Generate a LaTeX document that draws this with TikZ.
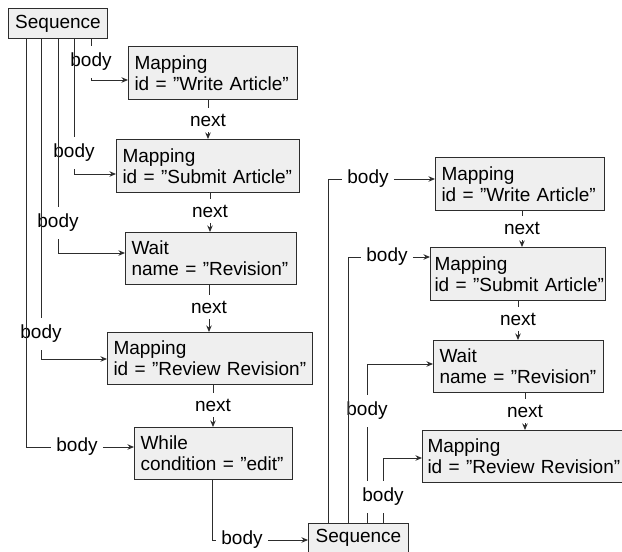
\documentclass[tikz,border=0pt]{standalone}
\usepackage{fontspec}
\setmainfont{Liberation Sans}
\usetikzlibrary{arrows.meta}
\definecolor{boxfill}{RGB}{239,239,239}
\definecolor{ink}{RGB}{45,45,45}
\begin{document}
\begin{tikzpicture}[x=1pt,y=-1pt,
  font=\fontsize{19}{21}\selectfont,
  objbox/.style={draw=ink, fill=boxfill, line width=1pt, anchor=north west,
    inner xsep=6pt, inner ysep=0pt, align=left},
  seqbox/.style={draw=ink, fill=boxfill, line width=1pt, anchor=north west,
    inner sep=0pt},
  lbl/.style={inner xsep=5pt, inner ysep=7pt},
  nlbl/.style={inner xsep=5pt, inner ysep=6pt, anchor=base},
  conn/.style={draw=ink, line width=0.9pt},
  arr/.style={conn, -{Stealth[length=6.5pt,width=5.5pt]}}]
\useasboundingbox (0,0) rectangle (622,552);

% ---- first sequence and its steps ----
\node[seqbox, minimum width=99pt, minimum height=30pt] (s1) at (8,8) {Sequence};
\node[objbox, minimum width=169pt, minimum height=53pt, text width=157pt] (b1) at (128,46)
  {Mapping\\\mbox{id = ”Write Article”}};
\node[objbox, minimum width=183pt, minimum height=53pt, text width=171pt] (b2) at (116,139)
  {Mapping\\\mbox{id = ”Submit Article”}};
\node[objbox, minimum width=171pt, minimum height=52pt, text width=159pt] (b3) at (125,232)
  {Wait\\\mbox{name = ”Revision”}};
\node[objbox, minimum width=205pt, minimum height=52pt, text width=193pt] (b4) at (107,332)
  {Mapping\\\mbox{id = ”Review Revision”}};
\node[objbox, minimum width=158pt, minimum height=52pt, text width=146pt] (b5) at (134,427)
  {While\\\mbox{condition = ”edit”}};

% ---- nested sequence inside the loop ----
\node[seqbox, minimum width=100pt, minimum height=29pt] (s2) at (308,523) {Sequence};
\node[objbox, minimum width=169pt, minimum height=53pt, text width=157pt] (r1) at (435,157)
  {Mapping\\\mbox{id = ”Write Article”}};
\node[objbox, minimum width=175pt, minimum height=53pt, text width=167pt, inner xsep=4pt] (r2) at (430,247)
  {Mapping\\\mbox{id = ”Submit Article”}};
\node[objbox, minimum width=170pt, minimum height=52pt, text width=158pt] (r3) at (433,340)
  {Wait\\\mbox{name = ”Revision”}};
\node[objbox, minimum width=200pt, minimum height=52pt, text width=190pt, inner xsep=5pt] (r4) at (422,430)
  {Mapping\\\mbox{id = ”Review Revision”}};

% ---- edge labels ----
\node[lbl] (bA) at (91,62) {body};
\node[lbl] (bB) at (74,153) {body};
\node[lbl] (bC) at (58,223) {body};
\node[lbl] (bD) at (41,334) {body};
\node[lbl] (bE) at (77,447) {body};
\node[lbl] (bS) at (242,540) {body};
\node[lbl] (bR1) at (368,179) {body};
\node[lbl] (bR2) at (387,257) {body};
\node[lbl] (bR3) at (367,411) {body};
\node[lbl] (bR4) at (383,497) {body};

\node[nlbl] (n1) at (208,126) {next};
\node[nlbl] (n2) at (210,217) {next};
\node[nlbl] (n3) at (209,313) {next};
\node[nlbl] (n4) at (213,411) {next};
\node[nlbl] (nR1) at (522,234) {next};
\node[nlbl] (nR2) at (518,325) {next};
\node[nlbl] (nR3) at (525,417) {next};

% ---- bends of the body links ----
\coordinate (kA) at (91,80);
\coordinate (kB) at (74,174);
\coordinate (kC) at (58,253);
\coordinate (kD) at (41,359);
\coordinate (kE) at (26,447);
\coordinate (kS) at (212,540);
\coordinate (kR1) at (328,179);
\coordinate (kR2) at (348,257);
\coordinate (kR3) at (367,364);
\coordinate (kR4) at (383,458);

% ---- body links of the first sequence ----
\draw[conn] (s1.south -| bA) -- (bA);
\draw[arr] (bA) -- (kA) -- (b1.west |- kA);
\draw[conn] (s1.south -| bB) -- (bB);
\draw[arr] (bB) -- (kB) -- (b2.west |- kB);
\draw[conn] (s1.south -| bC) -- (bC);
\draw[arr] (bC) -- (kC) -- (b3.west |- kC);
\draw[conn] (s1.south -| bD) -- (bD);
\draw[arr] (bD) -- (kD) -- (b4.west |- kD);
\draw[conn] (s1.south -| kE) -- (kE) -- (bE);
\draw[arr] (bE) -- (b5.west |- bE);

% ---- loop body ----
\draw[conn] (b5.south -| kS) -- (kS) -- (bS);
\draw[arr] (bS) -- (s2.west |- bS);

% ---- body links of the nested sequence ----
\draw[conn] (s2.north -| kR1) -- (kR1) -- (bR1);
\draw[arr] (bR1) -- (r1.west |- bR1);
\draw[conn] (s2.north -| kR2) -- (kR2) -- (bR2);
\draw[arr] (bR2) -- (r2.west |- bR2);
\draw[conn] (s2.north -| bR3) -- (bR3 |- bR4.south);
\draw[conn] (bR3 |- bR4.north) -- (bR3);
\draw[arr] (bR3) -- (kR3) -- (r3.west |- kR3);
\draw[conn] (s2.north -| bR4) -- (bR4);
\draw[arr] (bR4) -- (kR4) -- (r4.west |- kR4);

% ---- next links ----
\draw[conn] (b1.south -| n1) -- (n1);
\draw[arr] (n1) -- (b2.north -| n1);
\draw[conn] (b2.south -| n2) -- (n2);
\draw[arr] (n2) -- (b3.north -| n2);
\draw[conn] (b3.south -| n3) -- (n3);
\draw[arr] (n3) -- (b4.north -| n3);
\draw[conn] (b4.south -| n4) -- (n4);
\draw[arr] (n4) -- (b5.north -| n4);
\draw[conn] (r1.south -| nR1) -- (nR1);
\draw[arr] (nR1) -- (r2.north -| nR1);
\draw[conn] (r2.south -| nR2) -- (nR2);
\draw[arr] (nR2) -- (r3.north -| nR2);
\draw[conn] (r3.south -| nR3) -- (nR3);
\draw[arr] (nR3) -- (r4.north -| nR3);
\end{tikzpicture}
\end{document}
